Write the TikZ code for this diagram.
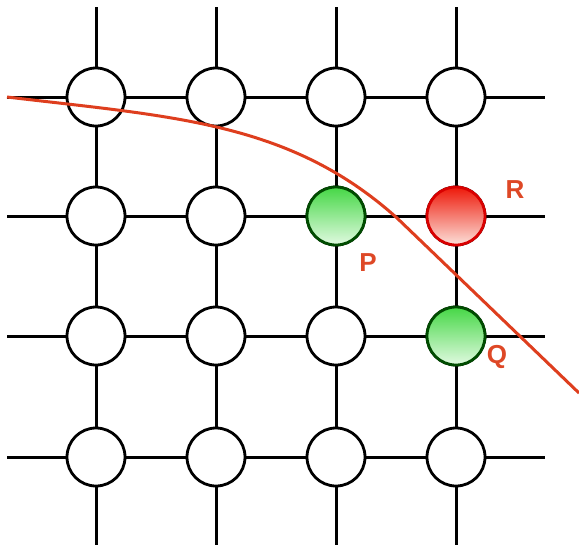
\documentclass[tikz,border=0pt]{standalone}
\usepackage{fontspec}
\setmainfont{Liberation Sans}
\begin{document}
\begin{tikzpicture}[x=1pt,y=-1pt,
  gridline/.style={line width=3pt,black},
  site/.style={circle,draw=black,line width=2.8pt,minimum size=58pt,inner sep=0pt,fill=white},
  greensite/.style={site,draw=black!70!green,top color={rgb,255:red,70;green,215;blue,70},bottom color={rgb,255:red,225;green,250;blue,225}},
  redsite/.style={site,draw=red!85!black,top color={rgb,255:red,238;green,25;blue,10},bottom color={rgb,255:red,252;green,225;blue,218}},
  tag/.style={font=\bfseries\fontsize{26}{26}\selectfont,text={rgb,255:red,222;green,72;blue,38}},
  front/.style={line width=3pt,draw={rgb,255:red,222;green,62;blue,30}}]
\useasboundingbox (0,0) rectangle (579,550);
% grid lines
\foreach \y in {97,216,336,457} \draw[gridline] (7,\y) -- (545,\y);
\foreach \x in {96,216,336,456} \draw[gridline] (\x,7) -- (\x,545);
% lattice sites
\foreach \x [count=\i] in {96,216,336,456}
  \foreach \y [count=\j] in {97,216,336,457}
    \node[site] (s\i\j) at (\x,\y) {};
\node[greensite] (P) at (336,216) {};
\node[redsite] (R) at (456,216) {};
\node[greensite] (Q) at (456,336) {};
% front curve
\coordinate (f0) at (7,97);
\coordinate (f1) at (397,218);
\coordinate (f2) at (579,393);
\draw[front] (f0) .. controls (175,117) and (290,122) .. (f1) -- (f2);
% labels
\node[tag] (lR) at (515,190) {R};
\node[tag] (lP) at (368,263) {P};
\node[tag] (lQ) at (497,357) {Q};
\end{tikzpicture}
\end{document}
